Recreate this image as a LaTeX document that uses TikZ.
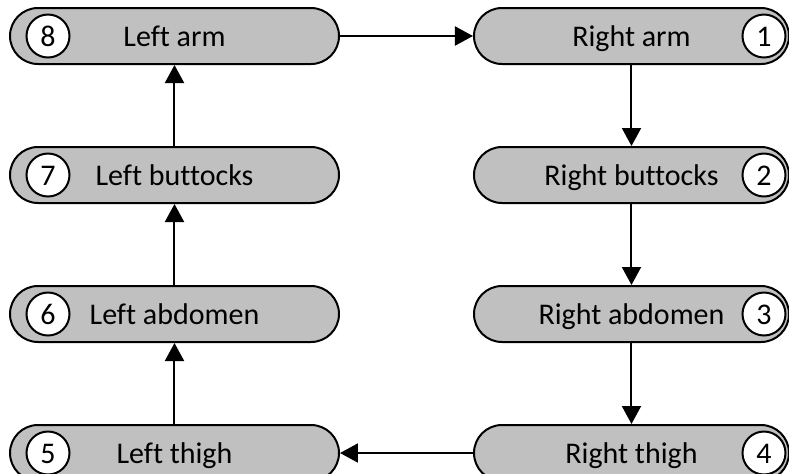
\documentclass[tikz,border=0pt]{standalone}
\usepackage{fontspec}
\setmainfont{Carlito}[Ligatures=NoCommon]
\usetikzlibrary{
  positioning,
  arrows.meta
}
\definecolor{boxgray}{RGB}{192,192,192}

\begin{document}
\begin{tikzpicture}[
    node distance=40.5pt and 66.5pt,
  every node/.style = {font=\fontsize{15}{18}\selectfont,
    text height=11pt, text depth=1pt},
  part/.style = {shape=rectangle, rounded corners=14pt, draw,
    line width=1pt, fill=boxgray, minimum height=28pt, inner sep=0pt},
  leftpart/.style = {part, minimum width=164.5pt},
  rightpart/.style = {part, minimum width=157.5pt},
  num/.style = {shape=circle, draw, line width=1pt, fill=white,
    minimum size=21.5pt, inner sep=0pt},
  flow/.style = {-{Triangle[length=9pt,width=9.5pt]}, line width=1pt}]
  \useasboundingbox (-87.25pt,18pt) rectangle (307.25pt,-218.5pt);
  % left column, bottom to top
  \node[leftpart] (l8) {Left arm};
  \node[leftpart, below=of l8] (l7) {Left buttocks};
  \node[leftpart, below=of l7] (l6) {Left abdomen};
  \node[leftpart, below=of l6] (l5) {Left thigh};
  % right column, top to bottom
  \node[rightpart, right=of l8] (r1) {Right arm};
  \node[rightpart, below=of r1] (r2) {Right buttocks};
  \node[rightpart, below=of r2] (r3) {Right abdomen};
  \node[rightpart, below=of r3] (r4) {Right thigh};
  % numbers
  \foreach \n/\i in {l8/8, l7/7, l6/6, l5/5}
    \node[num] (n\i) at ([xshift=19.5pt]\n.west) {\i};
  \foreach \n/\i in {r1/1, r2/2, r3/3, r4/4}
    \node[num] (n\i) at ([xshift=-13pt]\n.east) {\i};
  % order
  \draw[flow] (l8) -- (r1);
  \draw[flow] (r1) -- (r2);
  \draw[flow] (r2) -- (r3);
  \draw[flow] (r3) -- (r4);
  \draw[flow] (r4) -- (l5);
  \draw[flow] (l5) -- (l6);
  \draw[flow] (l6) -- (l7);
  \draw[flow] (l7) -- (l8);
\end{tikzpicture}
\end{document}
